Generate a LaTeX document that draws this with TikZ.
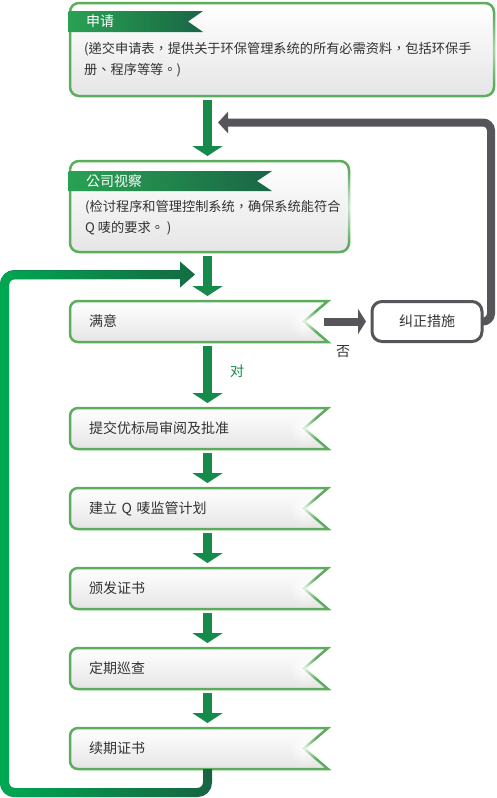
\documentclass[tikz,border=0pt]{standalone}
\usepackage{fontspec}
\newfontfamily\cjk{Noto Sans CJK TC}
\usetikzlibrary{arrows.meta,fadings,backgrounds}

\definecolor{boxgreen}{RGB}{92,174,92}
\definecolor{bandlight}{RGB}{40,162,82}
\definecolor{banddark}{RGB}{26,102,70}
\definecolor{arrowgreen}{RGB}{22,138,74}
\definecolor{loopbright}{RGB}{0,168,82}
\definecolor{loopdark}{RGB}{24,100,66}
\definecolor{fixgray}{RGB}{86,86,90}
\definecolor{textgray}{RGB}{51,51,51}

\tikzfading[name=rimfade, inner color=transparent!15, outer color=transparent!100]

\tikzset{
  bigbox/.style={draw=boxgreen, line width=2.5pt, rounded corners=9pt, top color=white, bottom color=black!10,
    anchor=north west, inner sep=0pt, outer sep=0pt},
  band/.style={left color=bandlight, right color=banddark},
  bandtext/.style={anchor=west, text=white, inner sep=0pt, font=\cjk\fontsize{14}{16}\selectfont},
  desc/.style={anchor=west, align=left, text=textgray, inner sep=0pt, font=\cjk\fontsize{13.2}{21}\selectfont},
  stepnode/.style={anchor=north west, minimum height=41pt, text width=220pt, inner xsep=19pt, inner ysep=0pt,
    outer sep=0pt, align=left, text=textgray, font=\cjk\fontsize{14}{16}\selectfont},
  stepshape/.style={draw=boxgreen, line width=2.5pt, top color=white, bottom color=black!10},
  fixbox/.style={draw=fixgray, line width=3pt, rounded corners=10pt, fill=white, minimum width=110pt,
    minimum height=40pt, inner sep=0pt, outer sep=0pt, text=textgray, font=\cjk\fontsize{14}{16}\selectfont},
  lbl/.style={inner sep=0pt, text=textgray, font=\cjk\fontsize{14}{16}\selectfont},
  flowarrow/.style={arrowgreen, line width=9pt, shorten <=4pt, shorten >=5pt, -{Triangle[width=30pt,length=10pt]}},
  fixarrow/.style={fixgray, line width=8pt, shorten >=6pt, -{Triangle[width=25pt,length=8pt]}},
  backline/.style={fixgray, line width=8pt, rounded corners=8pt, -{Triangle[width=21pt,length=10pt]}},
  loopline/.style={line width=9pt, rounded corners=10pt, -{Triangle[width=25pt,length=15pt]}}
}

\begin{document}
\begin{tikzpicture}[x=1pt, y=-1pt, font=\cjk]
\useasboundingbox (0,0) rectangle (496,798);

% Spine of the main flow
\def\spineX{207.5}
\coordinate (spine) at (\spineX,0);

% Application box
\node[bigbox, minimum width=424pt, minimum height=93pt] (apply) at (70,3) {};
\fill[white, path fading=rimfade, opacity=0.6] (apply.east) ellipse [x radius=5pt, y radius=34pt];
\path[band] (68.6,11) -- (203,11) -- (188,21.5) -- (203,32) -- (68.6,32) -- cycle;
\node[bandtext] (applyhead) at (86,21.5) {申请};
\node[desc] (applydesc) at (84,59.5) {(递交申请表，提供关于环保管理系统的所有必需资料，包括环保手\\册、程序等等。)};

% Audit box
\node[bigbox, minimum width=279pt, minimum height=91pt] (audit) at (70,161) {};
\fill[white, path fading=rimfade, opacity=0.9] (audit.east) ellipse [x radius=5pt, y radius=36pt];
\path[band] (68.6,171) -- (272,171) -- (257,181) -- (272,191) -- (68.6,191) -- cycle;
\node[bandtext] (audithead) at (86,181) {公司视察};
\node[desc] (auditdesc) at (85,218) {(检讨程序和管理控制系统，确保系统能符合\\Q 唛的要求。 )};

% Steps
\foreach \nm/\yy/\txt in {sat/301/满意, submit/408/提交优标局审阅及批准, plan/488/建立 Q 唛监管计划,
    issue/568/颁发证书, patrol/648/定期巡查, renew/728/续期证书}
  \node[stepnode] (\nm) at (70,\yy) {\txt};

\begin{scope}[on background layer]
  \foreach \nm in {sat, submit, plan, issue, patrol, renew} {
    \path[stepshape] ([xshift=20pt]\nm.north west) -- (\nm.north east) -- ([xshift=-24pt]\nm.east)
      -- (\nm.south east) -- ([xshift=20pt]\nm.south west) [rounded corners=8pt] -- (\nm.south west)
      -- (\nm.north west) -- cycle;
    \fill[white, path fading=rimfade] ([xshift=-24pt]\nm.east) ellipse [x radius=15pt, y radius=17pt];
  }
\end{scope}

% Main flow arrows
\draw[flowarrow] (apply.south -| spine) -- (audit.north -| spine);
\draw[flowarrow] (audit.south -| spine) -- (sat.north -| spine);
\foreach \a/\b in {sat/submit, submit/plan, plan/issue, issue/patrol, patrol/renew}
  \draw[flowarrow] (\a.south -| spine) -- (\b.north -| spine);

\node[lbl, text=arrowgreen] (yes) at (237,371) {对};

% Corrective action and return to audit
\node[fixbox] (fix) at (427,321.5) {纠正措施};
\draw[fixarrow] ([xshift=-4pt]sat.east) -- (fix.west);
\node[lbl] (no) at (343,352) {否};
\coordinate (reentry) at (218,122.5);
\draw[backline] (fix.east) -- ++(9,0) |- (reentry);

% Renewal loop back to satisfaction check
\coordinate (loopcorner) at (4.5,792.5);
\coordinate (loopin) at (195,274.5);
\draw[loopline, loopdark] (renew.south -| spine) |- (loopcorner) |- (loopin);
\draw[loopline, loopbright, path fading=east] (renew.south -| spine) |- (loopcorner) |- (loopin);

\end{tikzpicture}
\end{document}
